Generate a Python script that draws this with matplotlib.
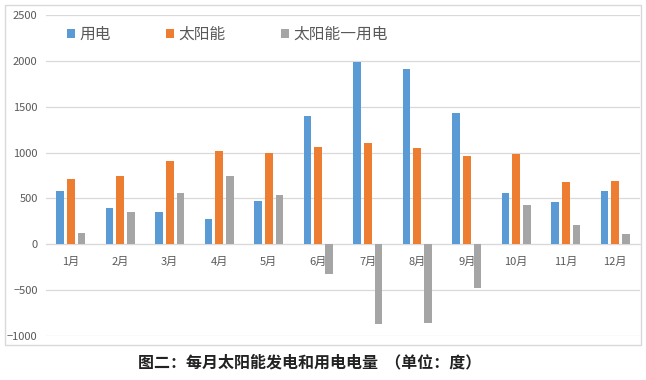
import numpy as np
import matplotlib.pyplot as plt
from matplotlib.patches import Rectangle

plt.rcParams['font.family'] = ['Noto Sans CJK SC', 'DejaVu Sans']

# monthly values (kWh)
months = ['1月', '2月', '3月', '4月', '5月', '6月', '7月', '8月', '9月', '10月', '11月', '12月']
usage = [578, 396, 352, 276, 472, 1399, 1988, 1910, 1434, 560, 461, 581]
solar = [709, 745, 912, 1021, 999, 1065, 1108, 1055, 967, 988, 678, 688]
diff = [123, 352, 556, 741, 534, -329, -870, -860, -472, 429, 210, 112]

labels = ['用电', '太阳能', '太阳能一用电']
colors = ['#5B9BD5', '#ED7D31', '#A5A5A5']
text_color = '#595959'
grid_color = '#D9D9D9'

fig = plt.figure(figsize=(6.46, 3.80), dpi=100)
ax = fig.add_axes([46 / 646, (380 - 336) / 380, (640 - 46) / 646, (336 - 15) / 380])

x = np.arange(len(months))
w = 0.152
step = 0.216
for i, (vals, lab, col) in enumerate(zip([usage, solar, diff], labels, colors)):
    ax.bar(x + (i - 1) * step, vals, width=w, color=col, label=lab, zorder=3)

ax.set_xlim(-0.5, len(months) - 0.5)
ax.set_ylim(-1000, 2500)
ax.set_yticks(np.arange(-1000, 2501, 500))
ax.yaxis.grid(True, color=grid_color, linewidth=0.9, zorder=0)
ax.set_axisbelow(True)

for side in ['left', 'right', 'top']:
    ax.spines[side].set_visible(False)
ax.spines['bottom'].set_position(('data', 0))
ax.spines['bottom'].set_color(grid_color)
ax.spines['bottom'].set_zorder(2)

ax.set_xticks(x)
ax.set_xticklabels(months)
ax.tick_params(axis='x', length=0, pad=9, labelsize=8, labelcolor=text_color)
ax.tick_params(axis='y', length=0, pad=6, labelsize=8, labelcolor=text_color)

leg = ax.legend(loc='center left', bbox_to_anchor=(0.012, 0.94), ncol=3, frameon=False,
                fontsize=11.3, handlelength=0.5, handleheight=0.5, handletextpad=0.3,
                columnspacing=3.5, labelcolor=text_color)

# outer chart border
fig.patches.append(Rectangle((5 / 646, (380 - 345) / 380), 636 / 646, 340 / 380,
                             transform=fig.transFigure, fill=False,
                             edgecolor=grid_color, linewidth=1))

fig.text(0.48, (380 - 362) / 380, '图二：每月太阳能发电和用电电量  （单位：度）',
         ha='center', va='center', fontsize=11.5, fontweight='bold', color='#222222')

fig.savefig('out.png', dpi=100)
